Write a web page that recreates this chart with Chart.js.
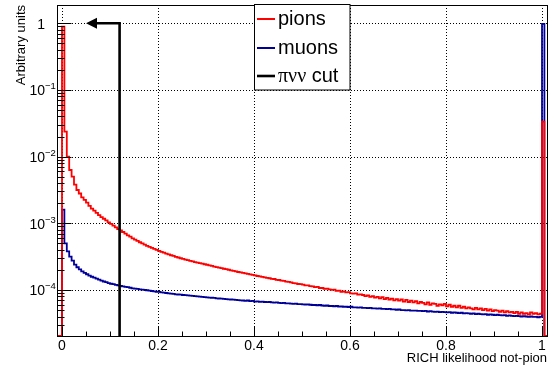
<!DOCTYPE html>
<html><head><meta charset="utf-8">
<script src="https://cdn.jsdelivr.net/npm/chart.js@4/dist/chart.umd.min.js"></script>
<style>html,body{margin:0;padding:0;background:#fff;}#wrap{width:555px;height:367px;}</style>
</head><body><div id="wrap"><canvas id="c" width="555" height="367"></canvas></div>
<script>
// histogram binning
const binLow = -0.01;
const binWidth = 0.005;

// pions (red)
const pions = [
0, 0, 0.89, 0.0237, 0.0100, 0.0063, 0.0050, 0.0038, 0.00316, 0.0028,
0.00245, 0.00224, 0.00204, 0.00182, 0.00166, 0.00155, 0.00143, 0.00133, 0.00124, 0.00117,
0.00111, 0.001035, 0.00098, 0.00092, 0.00087, 0.00082, 0.00078, 7.4e-4, 7.0e-4, 6.6e-4,
6.3e-4, 5.95e-4, 5.7e-4, 5.45e-4, 5.2e-4, 5.0e-4, 4.8e-4, 4.6e-4, 4.42e-4, 4.28e-4,
4.12e-4, 3.98e-4, 3.85e-4, 3.72e-4, 3.62e-4, 3.5e-4, 3.42e-4, 3.32e-4, 3.24e-4, 3.14e-4,
3.07e-4, 2.99e-4, 2.93e-4, 2.86e-4, 2.80e-4, 2.73e-4, 2.68e-4, 2.62e-4, 2.58e-4, 2.53e-4,
2.48e-4, 2.43e-4, 2.39e-4, 2.34e-4, 2.3e-4, 2.24e-4, 2.2e-4, 2.16e-4, 2.13e-4, 2.08e-4,
2.05e-4, 2.01e-4, 1.97e-4, 1.94e-4, 1.90e-4, 1.86e-4, 1.84e-4, 1.80e-4, 1.77e-4, 1.74e-4,
1.71e-4, 1.68e-4, 1.66e-4, 1.62e-4, 1.60e-4, 1.57e-4, 1.55e-4, 1.52e-4, 1.50e-4, 1.47e-4,
1.46e-4, 1.42e-4, 1.41e-4, 1.38e-4, 1.37e-4, 1.33e-4, 1.32e-4, 1.30e-4, 1.27e-4, 1.26e-4,
1.23e-4, 1.22e-4, 1.20e-4, 1.17e-4, 1.17e-4, 1.14e-4, 1.13e-4, 1.10e-4, 1.11e-4, 1.07e-4,
1.07e-4, 1.04e-4, 1.05e-4, 1.02e-4, 1.00e-4, 1.01e-4, 9.7e-5, 9.8e-5, 9.4e-5, 9.5e-5,
9.2e-5, 9.3e-5, 8.9e-5, 8.8e-5, 8.9e-5, 8.5e-5, 8.6e-5, 8.4e-5, 8.1e-5, 8.3e-5,
7.9e-5, 8.1e-5, 7.7e-5, 7.9e-5, 7.5e-5, 7.8e-5, 7.3e-5, 7.6e-5, 7.2e-5, 7.4e-5,
7.0e-5, 7.3e-5, 6.9e-5, 7.2e-5, 6.7e-5, 7.1e-5, 6.6e-5, 6.9e-5, 6.5e-5, 6.8e-5,
6.3e-5, 6.6e-5, 6.4e-5, 6.1e-5, 6.5e-5, 6.0e-5, 6.3e-5, 6.2e-5, 5.8e-5, 6.1e-5,
5.9e-5, 6.2e-5, 5.7e-5, 6.0e-5, 5.6e-5, 5.8e-5, 5.5e-5, 5.8e-5, 5.4e-5, 5.6e-5,
5.3e-5, 5.5e-5, 5.3e-5, 5.1e-5, 5.4e-5, 5.1e-5, 5.3e-5, 5.0e-5, 5.2e-5, 4.9e-5,
5.1e-5, 4.8e-5, 5.0e-5, 4.9e-5, 4.7e-5, 4.9e-5, 4.6e-5, 4.8e-5, 4.6e-5, 4.7e-5,
4.5e-5, 4.7e-5, 4.4e-5, 4.6e-5, 4.4e-5, 4.5e-5, 4.3e-5, 4.6e-5, 4.4e-5, 4.5e-5,
4.3e-5, 4.4e-5, 0.0335, 0
];

// muons (blue)
const muons = [
0, 0, 1.6e-3, 5.0e-4, 3.8e-4, 3.16e-4, 2.75e-4, 2.4e-4, 2.19e-4, 2.04e-4,
1.90e-4, 1.80e-4, 1.72e-4, 1.64e-4, 1.58e-4, 1.53e-4, 1.48e-4, 1.43e-4, 1.38e-4, 1.34e-4,
1.31e-4, 1.27e-4, 1.24e-4, 1.22e-4, 1.19e-4, 1.17e-4, 1.15e-4, 1.13e-4, 1.11e-4, 1.10e-4,
1.08e-4, 1.06e-4, 1.05e-4, 1.04e-4, 1.02e-4, 1.01e-4, 1.00e-4, 9.9e-5, 9.8e-5, 9.65e-5,
9.55e-5, 9.4e-5, 9.35e-5, 9.2e-5, 9.1e-5, 9.0e-5, 8.9e-5, 8.8e-5, 8.75e-5, 8.6e-5,
8.55e-5, 8.5e-5, 8.4e-5, 8.35e-5, 8.3e-5, 8.2e-5, 8.15e-5, 8.1e-5, 8.0e-5, 7.95e-5,
7.9e-5, 7.8e-5, 7.75e-5, 7.7e-5, 7.65e-5, 7.6e-5, 7.5e-5, 7.45e-5, 7.4e-5, 7.35e-5,
7.3e-5, 7.25e-5, 7.2e-5, 7.15e-5, 7.1e-5, 7.05e-5, 7.0e-5, 6.95e-5, 6.85e-5, 6.95e-5,
6.8e-5, 6.85e-5, 6.7e-5, 6.75e-5, 6.65e-5, 6.7e-5, 6.6e-5, 6.55e-5, 6.6e-5, 6.5e-5,
6.45e-5, 6.5e-5, 6.4e-5, 6.35e-5, 6.4e-5, 6.3e-5, 6.3e-5, 6.25e-5, 6.2e-5, 6.25e-5,
6.15e-5, 6.15e-5, 6.1e-5, 6.05e-5, 6.1e-5, 6.0e-5, 5.95e-5, 5.95e-5, 5.9e-5, 5.95e-5,
5.85e-5, 5.8e-5, 5.85e-5, 5.75e-5, 5.75e-5, 5.7e-5, 5.75e-5, 5.65e-5, 5.65e-5, 5.6e-5,
5.6e-5, 5.55e-5, 5.6e-5, 5.5e-5, 5.5e-5, 5.45e-5, 5.5e-5, 5.4e-5, 5.4e-5, 5.35e-5,
5.4e-5, 5.3e-5, 5.3e-5, 5.25e-5, 5.3e-5, 5.2e-5, 5.2e-5, 5.15e-5, 5.2e-5, 5.1e-5,
5.1e-5, 5.05e-5, 5.1e-5, 5.0e-5, 5.0e-5, 4.95e-5, 5.0e-5, 4.9e-5, 4.9e-5, 4.9e-5,
4.85e-5, 4.85e-5, 4.8e-5, 4.85e-5, 4.75e-5, 4.8e-5, 4.75e-5, 4.7e-5, 4.75e-5, 4.65e-5,
4.7e-5, 4.65e-5, 4.6e-5, 4.65e-5, 4.55e-5, 4.6e-5, 4.55e-5, 4.5e-5, 4.55e-5, 4.45e-5,
4.5e-5, 4.45e-5, 4.4e-5, 4.45e-5, 4.35e-5, 4.4e-5, 4.35e-5, 4.3e-5, 4.35e-5, 4.25e-5,
4.3e-5, 4.25e-5, 4.2e-5, 4.25e-5, 4.2e-5, 4.15e-5, 4.2e-5, 4.1e-5, 4.15e-5, 4.1e-5,
4.05e-5, 4.1e-5, 4.05e-5, 4.0e-5, 4.05e-5, 4.0e-5, 3.95e-5, 4.0e-5, 3.95e-5, 3.95e-5,
3.9e-5, 3.95e-5, 0.98, 0
];

// axes
const xMin = -0.0104, xMax = 1.0104;
const yMin = 2.04e-5, yMax = 1.88;
const xMajorTicks = [0, 0.2, 0.4, 0.6, 0.8, 1];
const xTickLabels = ['0', '0.2', '0.4', '0.6', '0.8', '1'];
const xMinorTicks = [0.05, 0.1, 0.15, 0.25, 0.3, 0.35, 0.45, 0.5, 0.55, 0.65, 0.7, 0.75, 0.85, 0.9, 0.95];
const yMajorTicks = [1e-4, 1e-3, 1e-2, 1e-1, 1];
const yTickExponents = ['-4', '-3', '-2', '-1', '0'];
const yMinorMantissas = [2, 3, 4, 5, 6, 7, 8, 9];
const yDecades = [-5, -4, -3, -2, -1, 0];

// cut
const cutValue = 0.12;
const cutHeight = 1;
const arrowTip = 0.05;

const legendLabels = ['pions', 'muons', 'cut'];
const seriesColors = ['#ff0000', '#000099', '#000000'];

function toPoints(vals) {
  const pts = vals.map((v, i) => ({ x: binLow + i * binWidth, y: Math.max(v, yMin) }));
  pts.push({ x: binLow + vals.length * binWidth, y: Math.max(vals[vals.length - 1], yMin) });
  return pts;
}

const SANS = '"Liberation Sans", Arial, Helvetica, sans-serif';
const SERIF = '"Liberation Serif", "Times New Roman", serif';

const decor = {
  id: 'decor',
  beforeDatasetsDraw(chart) {
    const { ctx, chartArea: a, scales: { x, y } } = chart;
    ctx.save();
    ctx.strokeStyle = '#000';
    ctx.lineWidth = 1;
    ctx.setLineDash([1, 2]);
    xMajorTicks.forEach(v => {
      const px = Math.round(x.getPixelForValue(v)) + 0.5;
      ctx.beginPath(); ctx.moveTo(px, a.top); ctx.lineTo(px, a.bottom); ctx.stroke();
    });
    yMajorTicks.forEach(v => {
      const py = Math.round(y.getPixelForValue(v)) + 0.5;
      ctx.beginPath(); ctx.moveTo(a.left, py); ctx.lineTo(a.right, py); ctx.stroke();
    });
    ctx.restore();
  },
  afterDatasetsDraw(chart) {
    const { ctx, chartArea: a, scales: { x, y } } = chart;
    ctx.save();
    // cut line + arrow
    const cx = x.getPixelForValue(cutValue);
    const cy = y.getPixelForValue(cutHeight);
    const tx = x.getPixelForValue(arrowTip);
    ctx.strokeStyle = '#000'; ctx.fillStyle = '#000';
    ctx.lineWidth = 2.6; ctx.lineJoin = 'miter';
    ctx.beginPath();
    ctx.moveTo(cx, a.bottom); ctx.lineTo(cx, cy); ctx.lineTo(tx + 9, cy);
    ctx.stroke();
    ctx.beginPath();
    ctx.moveTo(tx, cy); ctx.lineTo(tx + 11, cy - 5.5); ctx.lineTo(tx + 11, cy + 5.5); ctx.closePath();
    ctx.fill();

    // frame
    ctx.lineWidth = 1;
    ctx.strokeRect(Math.round(a.left) + 0.5, Math.round(a.top) + 0.5, Math.round(a.right - a.left), Math.round(a.bottom - a.top));

    // x ticks
    const by = Math.round(a.bottom) + 0.5;
    xMajorTicks.forEach(v => {
      const px = Math.round(x.getPixelForValue(v)) + 0.5;
      ctx.beginPath(); ctx.moveTo(px, by); ctx.lineTo(px, by - 10); ctx.stroke();
    });
    xMinorTicks.forEach(v => {
      const px = Math.round(x.getPixelForValue(v)) + 0.5;
      ctx.beginPath(); ctx.moveTo(px, by); ctx.lineTo(px, by - 5); ctx.stroke();
    });
    // y ticks
    const lx = Math.round(a.left) + 0.5;
    yMajorTicks.forEach(v => {
      const py = Math.round(y.getPixelForValue(v)) + 0.5;
      ctx.beginPath(); ctx.moveTo(lx, py); ctx.lineTo(lx + 14, py); ctx.stroke();
    });
    yDecades.forEach(d => {
      yMinorMantissas.forEach(m => {
        const v = m * Math.pow(10, d);
        if (v <= yMin || v >= yMax) return;
        const py = Math.round(y.getPixelForValue(v)) + 0.5;
        ctx.beginPath(); ctx.moveTo(lx, py); ctx.lineTo(lx + 7, py); ctx.stroke();
      });
    });

    // x labels
    ctx.fillStyle = '#000';
    ctx.font = '14px ' + SANS;
    ctx.textAlign = 'center'; ctx.textBaseline = 'alphabetic';
    xMajorTicks.forEach((v, i) => {
      ctx.fillText(xTickLabels[i], x.getPixelForValue(v), 350);
    });
    // y labels
    yMajorTicks.forEach((v, i) => {
      const py = y.getPixelForValue(v);
      ctx.textAlign = 'right';
      ctx.font = '14px ' + SANS;
      if (yTickExponents[i] === '0') {
        ctx.fillText('1', 45, py + 5.5);
      } else {
        ctx.fillText('10', 45, py + 5.5);
        ctx.textAlign = 'left';
        ctx.font = '9.5px ' + SANS;
        ctx.fillText(yTickExponents[i].replace('-', '\u2212'), 45, py - 0.5);
      }
    });

    // axis titles
    ctx.font = '13px ' + SANS;
    ctx.textAlign = 'right';
    ctx.fillText('RICH likelihood not-pion', a.right, 362);
    ctx.save();
    ctx.translate(24.5, a.top);
    ctx.rotate(-Math.PI / 2);
    ctx.textAlign = 'right';
    ctx.fillText('Arbitrary units', 0, 0);
    ctx.restore();

    // legend
    ctx.fillStyle = '#fff';
    ctx.fillRect(254.5, 4.5, 95.5, 85.5);
    ctx.strokeStyle = '#000'; ctx.lineWidth = 1;
    ctx.strokeRect(254.5, 4.5, 95.5, 85.5);
    const rows = [19, 48, 76];
    const bases = [25, 54, 82];
    rows.forEach((ry, i) => {
      ctx.strokeStyle = seriesColors[i];
      ctx.lineWidth = i === 2 ? 2.6 : 2;
      ctx.beginPath(); ctx.moveTo(257, ry); ctx.lineTo(275, ry); ctx.stroke();
    });
    ctx.fillStyle = '#000';
    ctx.textAlign = 'left';
    ctx.font = '20px ' + SANS;
    ctx.fillText(legendLabels[0], 278, bases[0]);
    ctx.fillText(legendLabels[1], 278, bases[1]);
    ctx.font = '20px ' + SERIF;
    const greek = '\u03c0\u03bd\u03bd';
    ctx.fillText(greek, 278, bases[2]);
    const gw = ctx.measureText(greek).width;
    ctx.font = '20px ' + SANS;
    ctx.fillText(' ' + legendLabels[2], 278 + gw, bases[2]);
    ctx.restore();
  }
};

new Chart(document.getElementById('c'), {
  type: 'line',
  data: {
    datasets: [
      { label: 'pions', data: toPoints(pions), borderColor: seriesColors[0], borderWidth: 1.8, pointRadius: 0, stepped: true, fill: false },
      { label: 'muons', data: toPoints(muons), borderColor: seriesColors[1], borderWidth: 1.8, pointRadius: 0, stepped: true, fill: false }
    ]
  },
  options: {
    responsive: false,
    animation: false,
    events: [],
    layout: { padding: { left: 57, right: 8, top: 5, bottom: 31 } },
    plugins: { legend: { display: false }, tooltip: { enabled: false } },
    scales: {
      x: { type: 'linear', min: xMin, max: xMax, display: false },
      y: { type: 'logarithmic', min: yMin, max: yMax, display: false }
    }
  },
  plugins: [decor]
});
</script></body></html>
